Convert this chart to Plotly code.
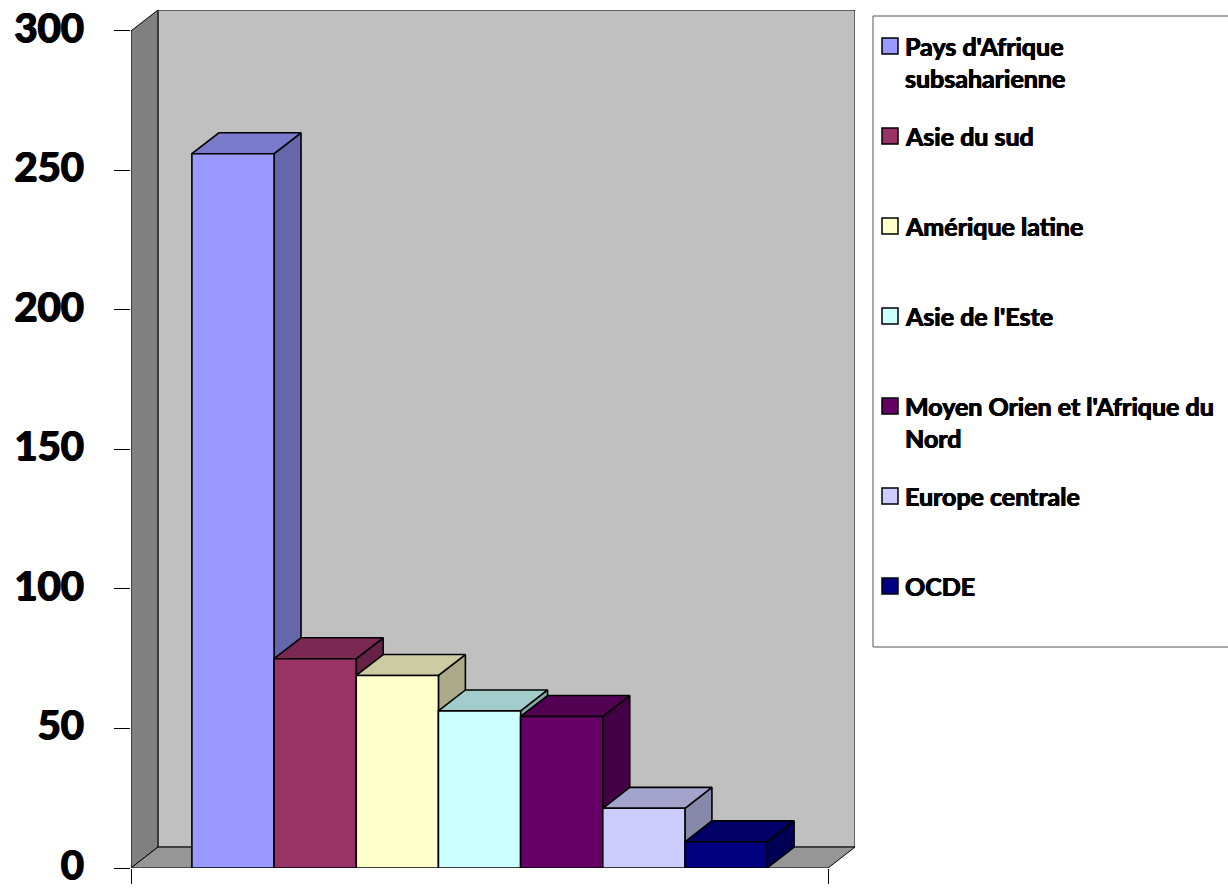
import plotly.graph_objects as go

# ---- data ----
regions = [
    "Pays d'Afrique subsaharienne",
    "Asie du sud",
    "Amérique latine",
    "Asie de l'Este",
    "Moyen Orien et l'Afrique du Nord",
    "Europe centrale",
    "OCDE",
]
legend_lines = [
    ["Pays d'Afrique", "subsaharienne"],
    ["Asie du sud"],
    ["Amérique latine"],
    ["Asie de l'Este"],
    ["Moyen Orien et l'Afrique du", "Nord"],
    ["Europe centrale"],
    ["OCDE"],
]
values = [256, 75, 69, 56.3, 54.3, 21.4, 9.4]
front_colors = ["#9999FF", "#993366", "#FFFFCC", "#CCFFFF", "#660066", "#CCCCFF", "#000080"]
y_ticks = [0, 50, 100, 150, 200, 250, 300]

# ---- 3D geometry (category units / value units) ----
Y_MAX = 300
DX = 0.328          # depth offset along x, in category widths
DY = 7.5            # depth offset along y, in value units
PAD = 0.741         # floor margin on each side of the bar block
n = len(values)
X0 = -0.5 - PAD
X1 = n - 0.5 + PAD

FONT = "Lato"
HEAVY = "0.5px 0 0 #000, -0.5px 0 0 #000, 0 0.4px 0 #000"   # thickens the bold strokes


def shade(hex_color, f):
    h = hex_color.lstrip("#")
    r, g, b = (int(h[i:i + 2], 16) for i in (0, 2, 4))
    return "#%02X%02X%02X" % (round(r * f), round(g * f), round(b * f))


def poly(xs, ys, fill, lw=1.0):
    return go.Scatter(
        x=xs + [xs[0]], y=ys + [ys[0]], mode="lines", fill="toself",
        fillcolor=fill, line=dict(color="#000000", width=lw),
        hoverinfo="skip", showlegend=False,
    )


fig = go.Figure()

# walls and floor
fig.add_trace(poly([X0 + DX, X1 + DX, X1 + DX, X0 + DX],
                   [DY, DY, Y_MAX + DY, Y_MAX + DY], "#C0C0C0"))
fig.add_trace(poly([X0, X0, X0 + DX, X0 + DX],
                   [0, Y_MAX, Y_MAX + DY, DY], "#808080"))
fig.add_trace(poly([X0, X1, X1 + DX, X0 + DX],
                   [0, 0, DY, DY], "#969696"))

# bars, left to right so each one hides the side of the previous
for i, (v, c) in enumerate(zip(values, front_colors)):
    x0, x1 = i - 0.5, i + 0.5
    fig.add_trace(poly([x1, x1 + DX, x1 + DX, x1],
                       [0, DY, v + DY, v], shade(c, 0.667), 1.6))
    fig.add_trace(poly([x0, x1, x1 + DX, x0 + DX],
                       [v, v, v + DY, v + DY], shade(c, 0.8), 1.6))
    fig.add_trace(poly([x0, x1, x1, x0],
                       [0, 0, v, v], c, 1.6))

# ---- legend box drawn in paper coordinates ----
W, H = 1228, 889
ML, MR, MT, MB = 131, 373, 10, 21
PW, PH = W - ML - MR, H - MT - MB


def px(x):
    return (x - ML) / PW


def py(y):
    return (H - MB - y) / PH


shapes = [dict(type="rect", xref="paper", yref="paper",
               x0=px(873), x1=px(1232), y0=py(647), y1=py(16),
               line=dict(color="#555555", width=1), fillcolor="#FFFFFF",
               layer="above")]
annotations = []
for k, (lines, c) in enumerate(zip(legend_lines, front_colors)):
    yc = 46 + 90 * k
    shapes.append(dict(type="rect", xref="paper", yref="paper",
                       x0=px(882), x1=px(898), y0=py(yc + 8), y1=py(yc - 8),
                       line=dict(color="#000000", width=1.5), fillcolor=c,
                       layer="above"))
    for j, t in enumerate(lines):
        annotations.append(dict(
            text=t, xref="paper", yref="paper", x=px(903), y=py(yc + 32 * j),
            xanchor="left", yanchor="middle", showarrow=False,
            font=dict(family=FONT, size=25, color="#000000", weight="bold",
                      shadow=HEAVY),
        ))

fig.update_layout(
    width=W, height=H,
    margin=dict(l=ML, r=MR, t=MT, b=MB, autoexpand=False),
    paper_bgcolor="#FFFFFF", plot_bgcolor="#FFFFFF",
    showlegend=False,
    shapes=shapes, annotations=annotations,
    xaxis=dict(range=[X0, X1 + DX], tickvals=[X0, X1], showticklabels=False,
               ticks="outside", ticklen=15, tickcolor="#000000", tickwidth=1,
               showgrid=False, zeroline=False, showline=False, fixedrange=True,
               automargin=False),
    yaxis=dict(range=[0, Y_MAX + DY], tickvals=y_ticks,
               ticktext=[str(t) for t in y_ticks],
               ticks="outside", ticklen=16, tickcolor="#000000", tickwidth=1,
               ticklabelstandoff=22, ticklabelshift=-3,
               automargin=False, ticklabeloverflow="allow",
               tickfont=dict(family=FONT, size=40, color="#000000", weight="bold",
                             shadow="0.8px 0 0 #000, -0.8px 0 0 #000, 0 0.6px 0 #000"),
               showgrid=False, zeroline=False, showline=False, fixedrange=True),
)

fig.write_html("out.html")
